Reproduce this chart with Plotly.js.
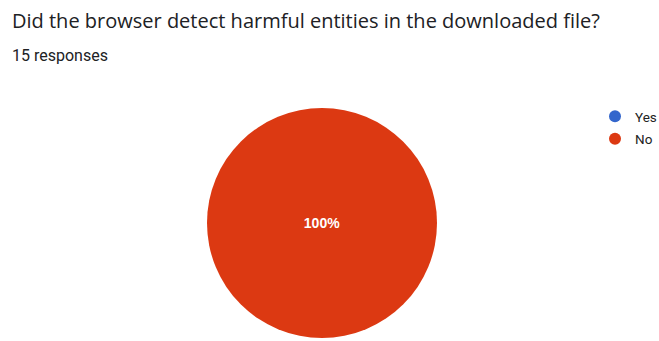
<!DOCTYPE html>
<html>
<head>
<meta charset="utf-8">
<script src="https://cdn.plot.ly/plotly-3.0.1.min.js"></script>
<style>html,body{margin:0;padding:0;background:#fff;}#chart{width:659px;height:341px;}</style>
</head>
<body>
<div id="chart"></div>
<script>
const titleText = "Did the browser detect harmful entities in the downloaded file?";
const subtitleText = "15 responses";
const labels = ["Yes", "No"];
const values = [0, 15];
const colors = ["#3366CC", "#DC3912"];

const W = 659, H = 341;
const traces = [{
  type: "pie",
  labels: labels,
  values: values,
  marker: {colors: colors, line: {width: 0}},
  sort: false,
  direction: "clockwise",
  textinfo: "percent",
  textposition: "inside",
  insidetextfont: {color: "#ffffff", size: 14, family: "Arial, 'Liberation Sans', sans-serif", weight: "bold"},
  showlegend: false,
  hoverinfo: "label+percent",
  domain: {x: [207 / W, 437 / W], y: [(H - 338) / H, (H - 108) / H]}
}];
labels.forEach((lab, i) => {
  traces.push({
    type: "scatter", mode: "markers", x: [null], y: [null], name: lab,
    legendgroup: "g" + i,
    marker: {color: colors[i], size: 12, symbol: "circle"},
    showlegend: true, hoverinfo: "skip"
  });
});

const layout = {
  width: W, height: H,
  margin: {l: 0, r: 0, t: 0, b: 0, autoexpand: false},
  paper_bgcolor: "#ffffff", plot_bgcolor: "#ffffff",
  xaxis: {visible: false}, yaxis: {visible: false},
  showlegend: true,
  legend: {
    x: 595 / W, y: (H - 101) / H, xanchor: "left", yanchor: "top",
    font: {family: "Roboto, Arial, sans-serif", size: 13.5, color: "#222222"},
    itemwidth: 30, tracegroupgap: 2, bgcolor: "rgba(0,0,0,0)"
  },
  annotations: [
    {text: titleText, xref: "paper", yref: "paper", x: 10 / W, y: 1 - 5 / H, xanchor: "left", yanchor: "top",
     showarrow: false, font: {family: "'Open Sans', sans-serif", size: 20, color: "#202124"}},
    {text: subtitleText, xref: "paper", yref: "paper", x: 10 / W, y: 1 - 44 / H, xanchor: "left", yanchor: "top",
     showarrow: false, font: {family: "Roboto, Arial, sans-serif", size: 16, color: "#202124"}}
  ]
};
Plotly.newPlot("chart", traces, layout, {displayModeBar: false, staticPlot: true});
</script>
</body>
</html>
